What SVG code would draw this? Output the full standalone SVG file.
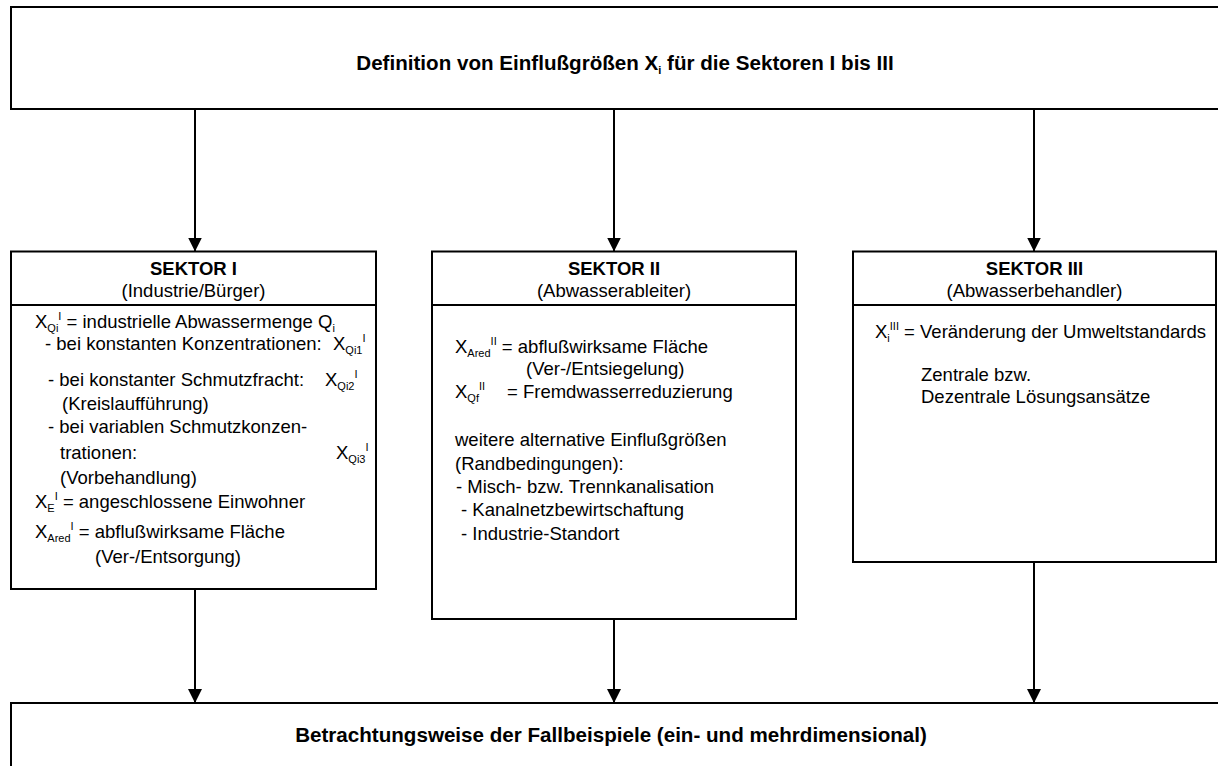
<svg xmlns="http://www.w3.org/2000/svg" width="1218" height="766" viewBox="0 0 1218 766">
<style>
.box{fill:#fff;stroke:#000;stroke-width:2}
.div{stroke:#000;stroke-width:2}
.con{stroke:#000;stroke-width:2;fill:none;marker-end:url(#ah)}
text{font-family:"Liberation Sans",Arial,sans-serif;font-size:18.5px;fill:#000}
.t{font-weight:bold;font-size:20.6px}
.h{font-weight:bold}
.s{font-size:11px}
</style>
<defs>
<marker id="ah" markerUnits="userSpaceOnUse" markerWidth="14" markerHeight="14" refX="14" refY="7" orient="auto">
<path d="M0,0 L14,7 L0,14 z" fill="#000"/>
</marker>
</defs>
<g id="top">
<rect class="box" x="11" y="7" width="1230" height="102"/>
<text class="t" x="625" y="70" text-anchor="middle">Definition von Einflußgrößen X<tspan class="s" dy="4">i</tspan><tspan dy="-4"> für die Sektoren I bis III</tspan></text>
</g>
<g id="sektor1">
<rect class="box" x="11" y="251.5" width="365" height="337.5"/>
<line class="div" x1="11" y1="305" x2="376" y2="305"/>
<text class="h" x="193.5" y="275" text-anchor="middle">SEKTOR I</text>
<text x="193.5" y="297" text-anchor="middle">(Industrie/Bürger)</text>
<text x="35" y="328">X<tspan class="s" dy="4">Qi</tspan><tspan class="s" dy="-12">I</tspan><tspan dy="8"> = industrielle Abwassermenge Q</tspan><tspan class="s" dy="4">i</tspan></text>
<text x="45" y="350">- bei konstanten Konzentrationen:</text>
<text x="333" y="350">X<tspan class="s" dy="4">Qi1</tspan><tspan class="s" dy="-12">I</tspan></text>
<text x="48" y="386">- bei konstanter Schmutzfracht:</text>
<text x="325" y="386">X<tspan class="s" dy="4">Qi2</tspan><tspan class="s" dy="-12">I</tspan></text>
<text x="62" y="410">(Kreislaufführung)</text>
<text x="48" y="433">- bei variablen Schmutzkonzen-</text>
<text x="60" y="459">trationen:</text>
<text x="336" y="459">X<tspan class="s" dy="4">Qi3</tspan><tspan class="s" dy="-12">I</tspan></text>
<text x="60" y="484">(Vorbehandlung)</text>
<text x="35" y="508">X<tspan class="s" dy="4">E</tspan><tspan class="s" dy="-12">I</tspan><tspan dy="8"> = angeschlossene Einwohner</tspan></text>
<text x="35" y="538">X<tspan class="s" dy="4">Ared</tspan><tspan class="s" dy="-12">I</tspan><tspan dy="8"> = abflußwirksame Fläche</tspan></text>
<text x="95" y="563">(Ver-/Entsorgung)</text>
</g>
<g id="sektor2">
<rect class="box" x="432" y="251.5" width="364" height="367.5"/>
<line class="div" x1="432" y1="305" x2="796" y2="305"/>
<text class="h" x="614" y="275" text-anchor="middle">SEKTOR II</text>
<text x="614" y="297" text-anchor="middle">(Abwasserableiter)</text>
<text x="455" y="353">X<tspan class="s" dy="4">Ared</tspan><tspan class="s" dy="-12">II</tspan><tspan dy="8"> = abflußwirksame Fläche</tspan></text>
<text x="526" y="375">(Ver-/Entsiegelung)</text>
<text x="455" y="398">X<tspan class="s" dy="4">Qf</tspan><tspan class="s" dy="-12">II</tspan></text>
<text x="507" y="398">= Fremdwasserreduzierung</text>
<text x="455" y="446">weitere alternative Einflußgrößen</text>
<text x="455" y="470">(Randbedingungen):</text>
<text x="456" y="493">- Misch- bzw. Trennkanalisation</text>
<text x="461" y="516">- Kanalnetzbewirtschaftung</text>
<text x="461" y="540">- Industrie-Standort</text>
</g>
<g id="sektor3">
<rect class="box" x="853" y="251.5" width="363" height="310.5"/>
<line class="div" x1="853" y1="305" x2="1216" y2="305"/>
<text class="h" x="1034.5" y="275" text-anchor="middle">SEKTOR III</text>
<text x="1034.5" y="297" text-anchor="middle">(Abwasserbehandler)</text>
<text x="875" y="338">X<tspan class="s" dy="4">i</tspan><tspan class="s" dy="-12">III</tspan><tspan dy="8"> = Veränderung der Umweltstandards</tspan></text>
<text x="921" y="381">Zentrale bzw.</text>
<text x="921" y="403">Dezentrale Lösungsansätze</text>
</g>
<g id="bottom">
<rect class="box" x="11" y="703" width="1230" height="80"/>
<text class="t" x="611" y="742" text-anchor="middle">Betrachtungsweise der Fallbeispiele (ein- und mehrdimensional)</text>
</g>
<g id="connectors">
<line class="con" x1="195" y1="109" x2="195" y2="251.5"/>
<line class="con" x1="614" y1="109" x2="614" y2="251.5"/>
<line class="con" x1="1034" y1="109" x2="1034" y2="251.5"/>
<line class="con" x1="195" y1="589" x2="195" y2="703"/>
<line class="con" x1="614" y1="619" x2="614" y2="703"/>
<line class="con" x1="1034" y1="562" x2="1034" y2="703"/>
</g>
</svg>
